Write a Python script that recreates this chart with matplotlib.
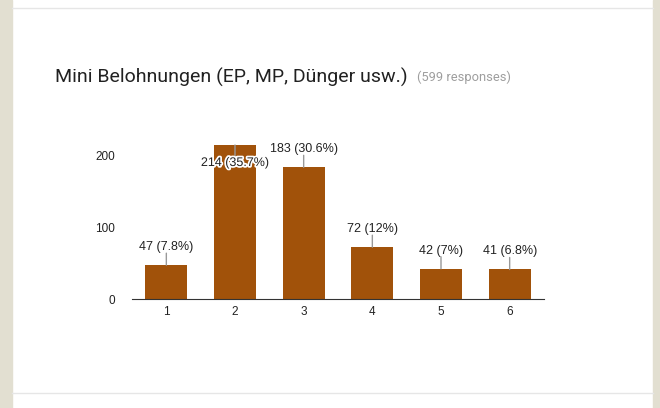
import matplotlib
matplotlib.use('Agg')
import matplotlib.pyplot as plt
import matplotlib.patheffects as pe
from matplotlib.patches import Rectangle
from matplotlib.lines import Line2D

# data
answers = ['1', '2', '3', '4', '5', '6']
counts = [47, 214, 183, 72, 42, 41]
percents = ['7.8%', '35.7%', '30.6%', '12%', '7%', '6.8%']
yticks = [0, 100, 200]
title = 'Mini Belohnungen (EP, MP, Dünger usw.)'
subtitle = '(599 responses)'

W, H = 660, 408
fig = plt.figure(figsize=(W / 100, H / 100), dpi=100)
fig.patch.set_facecolor('white')

# page frame (beige strips left/right, thin grey card lines)
fig.patches.append(Rectangle((0, 0), 12 / W, 1, transform=fig.transFigure, color='#e2dfd1', zorder=0))
fig.patches.append(Rectangle((653 / W, 0), 7 / W, 1, transform=fig.transFigure, color='#e2dfd1', zorder=0))
fig.lines.append(Line2D([12 / W, 653 / W], [1 - 7.5 / H] * 2, transform=fig.transFigure, color='#e6e6e6', lw=1))
fig.lines.append(Line2D([12 / W, 653 / W], [1 - 392.5 / H] * 2, transform=fig.transFigure, color='#e6e6e6', lw=1))

t = fig.text(55 / W, 1 - 83 / H, title, fontsize=14, family='Roboto', color='#212121', va='baseline')
fig.canvas.draw()
bb = t.get_window_extent()
fig.text((bb.x1 + 9) / W, 1 - 81 / H, subtitle, fontsize=9.3, family='Roboto', color='#9e9e9e', va='baseline')

ax = fig.add_axes([132 / W, 1 - 299 / H, 412 / W, 154 / H])
ax.set_facecolor('none')
x = list(range(1, len(counts) + 1))
ax.bar(x, counts, width=0.61, color='#a1520a')
ax.set_xlim(0.5, len(counts) + 0.5)
ax.set_ylim(0, 214)
ax.set_xticks(x, answers)
ax.set_yticks(yticks)
for s in ['top', 'right', 'left']:
    ax.spines[s].set_visible(False)
ax.spines['bottom'].set_color('#333333')
ax.tick_params(length=0, labelsize=8.5, labelcolor='#222222')
ax.tick_params(axis='y', pad=12)
ax.tick_params(axis='x', pad=5)
for lab in ax.get_xticklabels() + ax.get_yticklabels():
    lab.set_family('Liberation Sans')

line_style = dict(arrowstyle='-', color='#999999', lw=1, shrinkA=0, shrinkB=0)
for xi, c, p in zip(x, counts, percents):
    label = f'{c} ({p})'
    if c > 200:
        # no room above: label goes inside the bar
        ax.annotate('', xy=(xi, c), xytext=(0, -13), textcoords='offset pixels', arrowprops=line_style)
        ax.annotate(label, xy=(xi, c), xytext=(0, -18), textcoords='offset pixels',
                    ha='center', va='center', fontsize=9, family='Liberation Sans', color='#222222',
                    path_effects=[pe.withStroke(linewidth=2.5, foreground='white')])
    else:
        ax.annotate('', xy=(xi, c), xytext=(0, 12), textcoords='offset pixels', arrowprops=line_style)
        ax.annotate(label, xy=(xi, c), xytext=(0, 18), textcoords='offset pixels',
                    ha='center', va='center', fontsize=9, family='Liberation Sans', color='#222222')

fig.savefig('out.png', dpi=100)
